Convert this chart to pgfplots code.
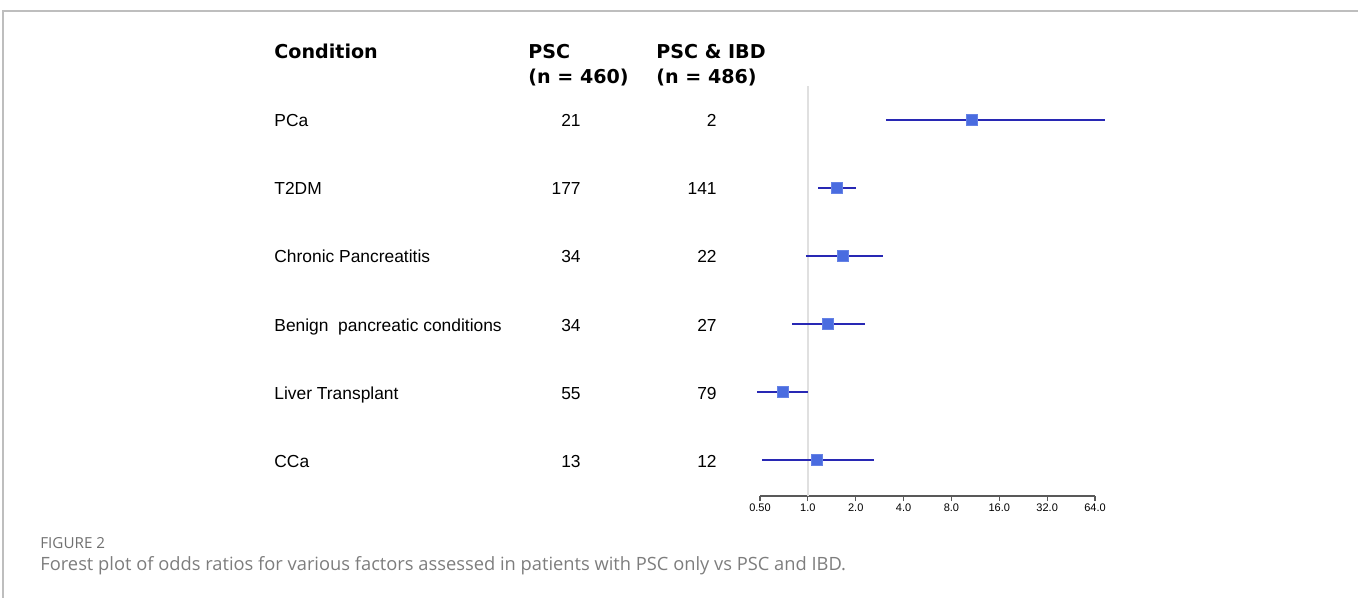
\documentclass[border=0pt]{standalone}
\usepackage{pgfplots}
\pgfplotsset{compat=1.18}
\usepackage{pgfplotstable}
\usepackage{fontspec}
\setmainfont{Liberation Sans}
\newfontfamily\hdr{DejaVu Sans}
\newfontfamily\capfont{Open Sans}
\definecolor{sqblue}{RGB}{74,108,224}
\definecolor{cilne}{RGB}{40,40,180}
\definecolor{frame}{RGB}{190,190,190}
\definecolor{capgray}{RGB}{125,125,125}

\pgfplotstableread{
row or lo hi
1 10.8 3.10 74
2 1.53 1.16 2.0
3 1.66 0.97 2.97
4 1.34 0.795 2.29
5 0.70 0.48 1.0
6 1.14 0.515 2.61
}\data

\begin{document}
\begin{tikzpicture}
\begin{scope}[x=0.5pt,y=-0.5pt]
\useasboundingbox (0,0) rectangle (1358,598);
\draw[frame, line width=0.6pt] (3,598) -- (3,11) -- (1358,11);

% headers
\node[anchor=base west, font=\hdr\bfseries\fontsize{9.55}{11}\selectfont, inner sep=0] at (274,59) {Condition};
\node[anchor=base west, font=\hdr\bfseries\fontsize{9.55}{11}\selectfont, inner sep=0] at (528,59) {PSC};
\node[anchor=base west, font=\hdr\bfseries\fontsize{9.55}{11}\selectfont, inner sep=0] at (528,84) {(n = 460)};
\node[anchor=base west, font=\hdr\bfseries\fontsize{9.55}{11}\selectfont, inner sep=0] at (656,59) {PSC \& IBD};
\node[anchor=base west, font=\hdr\bfseries\fontsize{9.55}{11}\selectfont, inner sep=0] at (656,84) {(n = 486)};

% rows
\foreach \y/\lab/\a/\b in {120/PCa/21/2, 188/T2DM/177/141, 256/Chronic Pancreatitis/34/22, 324/Benign\ \ pancreatic conditions/34/27, 392/Liver Transplant/55/79, 460/CCa/13/12}{
  \node[anchor=base west, font=\fontsize{8.7}{10}\selectfont, inner sep=0] at (274,\y+7) {\lab};
  \node[anchor=base east, font=\fontsize{8.7}{10}\selectfont, inner sep=0] at (581,\y+7) {\a};
  \node[anchor=base east, font=\fontsize{8.7}{10}\selectfont, inner sep=0] at (717,\y+7) {\b};
}

% caption
\node[anchor=base west, font=\capfont\fontsize{7.6}{9}\selectfont, text=capgray!90!black, inner sep=0] at (40,548) {FIGURE 2};
\node[anchor=base west, font=\capfont\fontsize{9.15}{11}\selectfont, text=capgray, inner sep=0] at (40,570) {Forest plot of odds ratios for various factors assessed in patients with PSC only vs PSC and IBD.};
\end{scope}

\begin{axis}[
  at={(380pt,-248pt)}, anchor=south west,
  scale only axis, width=167.5pt, height=205pt,
  xmode=log, log basis x=2, xmin=0.5, xmax=64,
  ymin=0.5, ymax=6.53, y dir=reverse,
  axis x line=bottom, axis y line=none,
  x axis line style={-, black!65, line width=0.6pt},
  xtick={0.5,1,2,4,8,16,32,64},
  xticklabels={0.50,1.0,2.0,4.0,8.0,16.0,32.0,64.0},
  xtick style={black!65, line width=0.6pt},
  tick align=outside, major tick length=2.5pt,
  xminorticks=false,
  xticklabel style={font=\fontsize{5.5}{6}\selectfont, inner sep=1pt},
  clip=false,
]
\addplot[black!12, line width=1pt] coordinates {(1,0.5) (1,6.53)};
\addplot[cilne, line width=0.6pt] coordinates {(3.10,1) (74,1)};
\addplot[cilne, line width=0.6pt] coordinates {(1.16,2) (2.0,2)};
\addplot[cilne, line width=0.6pt] coordinates {(0.97,3) (2.97,3)};
\addplot[cilne, line width=0.6pt] coordinates {(0.795,4) (2.29,4)};
\addplot[cilne, line width=0.6pt] coordinates {(0.48,5) (1.0,5)};
\addplot[cilne, line width=0.6pt] coordinates {(0.515,6) (2.61,6)};
\addplot[only marks, mark=square*, mark size=2.75pt, color=sqblue, mark options={fill=sqblue, draw=sqblue!85!white}] table[x=or, y=row]{\data};
\end{axis}
\end{tikzpicture}
\end{document}
